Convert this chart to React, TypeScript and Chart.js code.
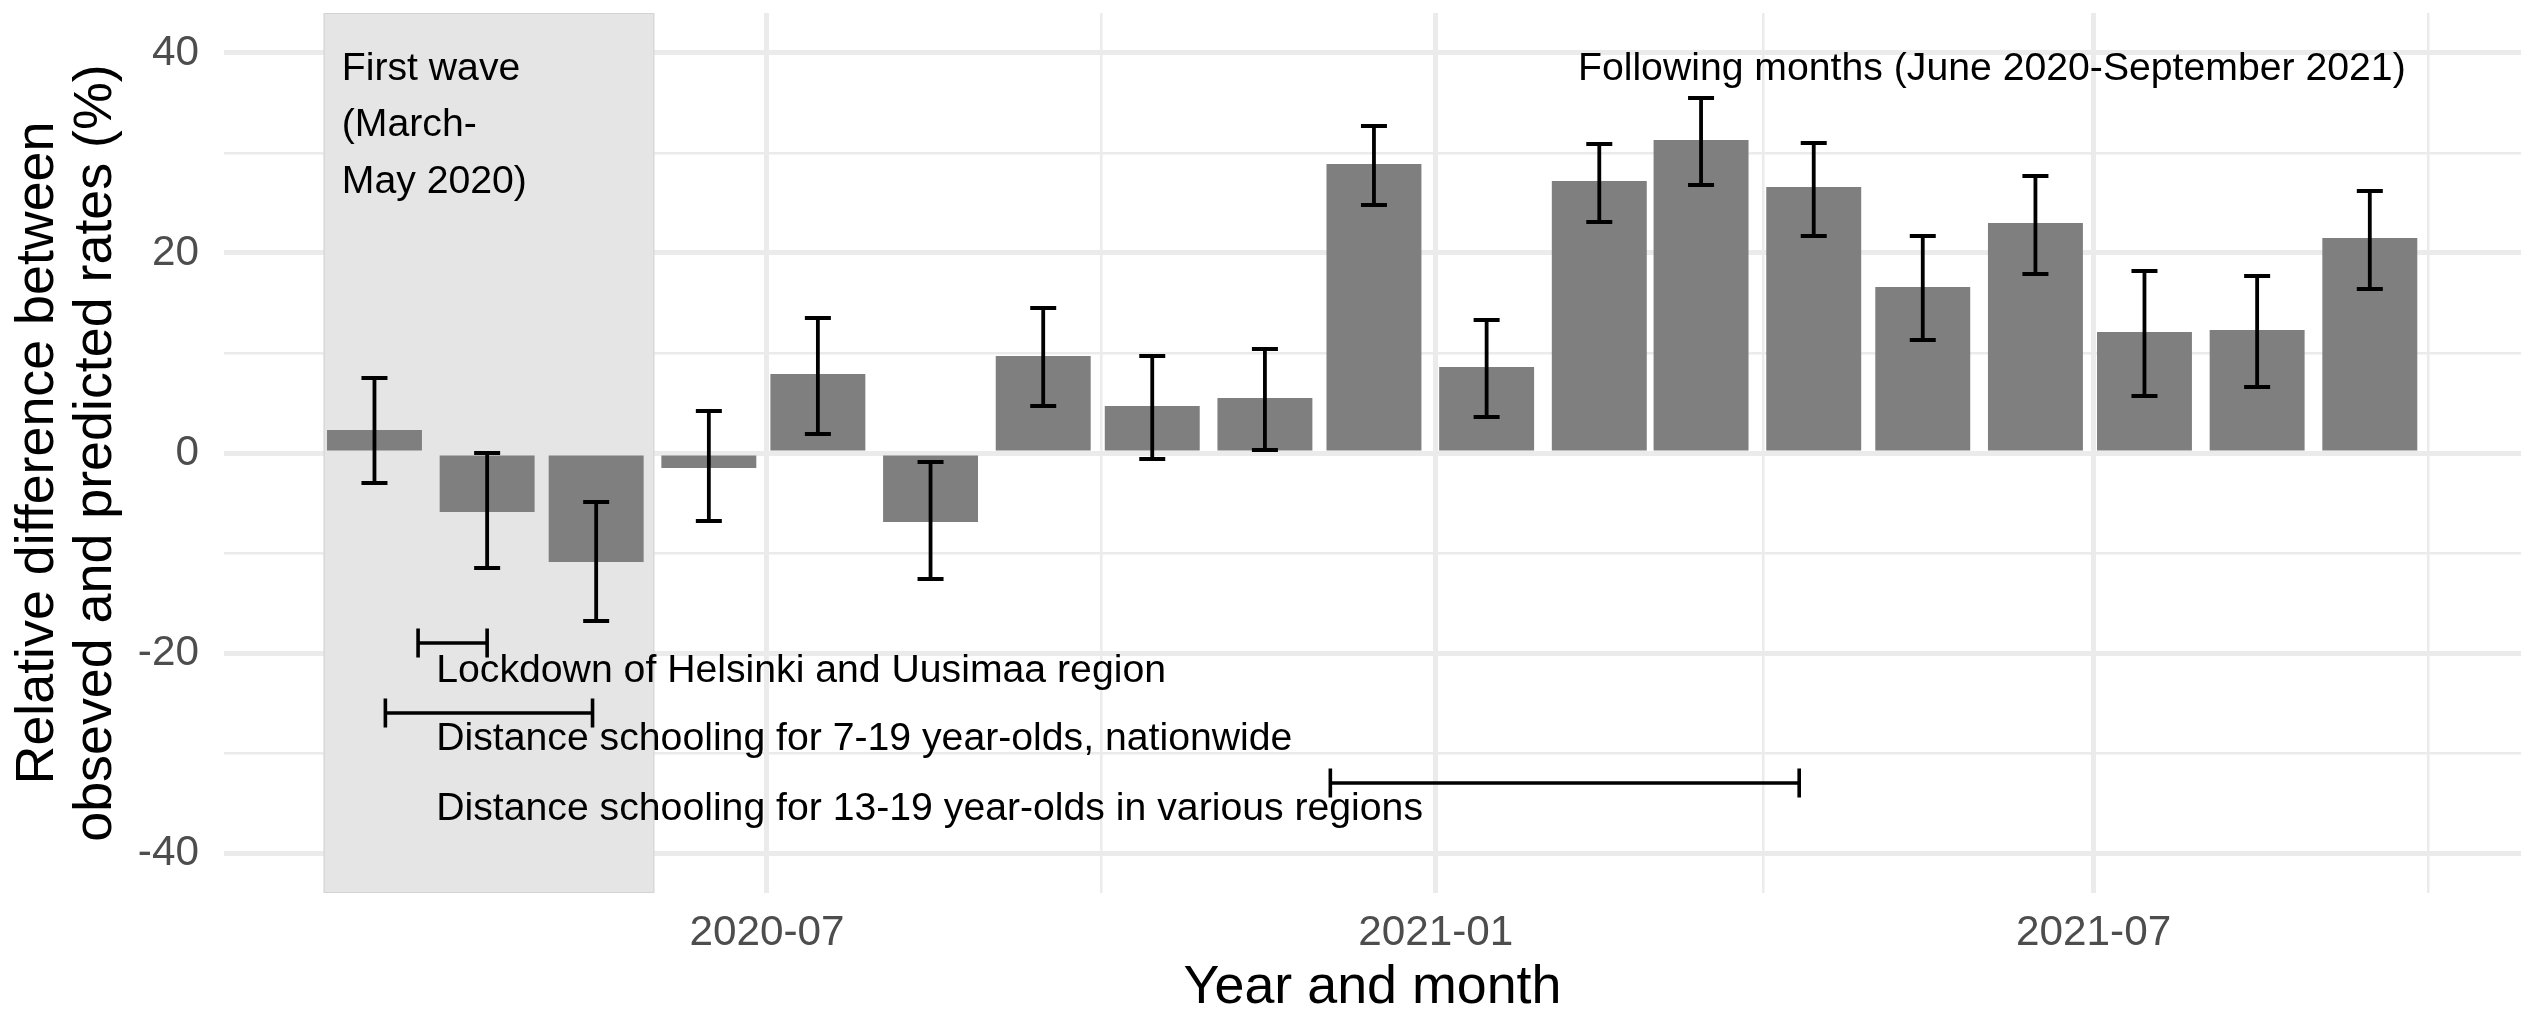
import React, { useEffect, useRef } from 'react';
import { Chart, registerables } from 'chart.js';

Chart.register(...registerables);

// ---- Data ----
const monthDates = [
  '2020-03-15', '2020-04-15', '2020-05-15', '2020-06-15', '2020-07-15', '2020-08-15',
  '2020-09-15', '2020-10-15', '2020-11-15', '2020-12-15', '2021-01-15', '2021-02-15',
  '2021-03-15', '2021-04-15', '2021-05-15', '2021-06-15', '2021-07-15', '2021-08-15',
  '2021-09-15',
];
const relDiff = [2.3, -5.9, -10.9, -1.5, 7.9, -6.9, 9.7, 4.7, 5.5, 28.9, 8.6, 27.2, 31.3, 26.6, 16.6, 23.0, 12.1, 12.3, 21.5];
const ciLower = [-3.0, -11.5, -16.8, -6.8, 1.9, -12.6, 4.7, -0.6, 0.3, 24.8, 3.6, 23.1, 26.8, 21.7, 11.3, 17.9, 5.7, 6.6, 16.4];
const ciUpper = [7.5, 0.0, -4.9, 4.2, 13.5, -0.9, 14.5, 9.7, 10.4, 32.7, 13.3, 30.9, 35.5, 31.0, 21.7, 27.7, 18.2, 17.7, 26.2];

const xMajorTickDates = ['2020-07-01', '2021-01-01', '2021-07-01'];
const xMinorTickDates = ['2020-10-01', '2021-04-01', '2021-10-01'];
const yMajorTicks = [-40, -20, 0, 20, 40];
const yMinorTicks = [-30, -10, 10, 30];
const yLimits = [-44, 44];
const xLimitDates = ['2020-02-02', '2021-10-26'];

const firstWaveStart = '2020-03-01';
const firstWaveEnd = '2020-05-31';
const firstWaveLabel = ['First wave', '(March-', 'May 2020)'];
const firstWaveLabelDate = '2020-03-06';
const firstWaveLabelY = 38.4;

const followingLabel = 'Following months (June 2020-September 2021)';
const followingLabelDate = '2021-06-03';
const followingLabelY = 38.4;

const measureLabels = [
  'Lockdown of Helsinki and Uusimaa region',
  'Distance schooling for 7-19 year-olds, nationwide',
  'Distance schooling for 13-19 year-olds in various regions',
];
const measureStart = ['2020-03-27', '2020-03-18', '2020-12-03'];
const measureEnd = ['2020-04-15', '2020-05-14', '2021-04-11'];
const measureY = [-19, -26, -33];
const measureLabelDate = '2020-04-01';
const measureLabelY = [-21.8, -28.65, -35.6];

const xTitle = 'Year and month';
const yTitle = ['Relative difference between', 'obseved and predicted rates (%)'];

// ---- helpers ----
const day = (s: string) => Date.parse(s + 'T00:00:00Z') / 86400000;
const fmtMonth = (d: number) => new Date(Math.round(d) * 86400000).toISOString().slice(0, 7);

const FONT = '"Liberation Sans", Arial, Helvetica, sans-serif';

const annotationPlugin = {
  id: 'ggAnnotations',
  beforeDatasetsDraw(chart: any) {
    const { ctx, chartArea, scales } = chart;
    const x = scales.x;
    const x0 = x.getPixelForValue(day(firstWaveStart));
    const x1 = x.getPixelForValue(day(firstWaveEnd));
    ctx.save();
    ctx.fillStyle = '#E5E5E5';
    ctx.fillRect(x0, chartArea.top, x1 - x0, chartArea.bottom - chartArea.top);
    ctx.strokeStyle = '#D3D3D3';
    ctx.lineWidth = 1;
    ctx.strokeRect(x0 + 0.5, chartArea.top + 0.5, x1 - x0 - 1, chartArea.bottom - chartArea.top - 1);
    ctx.restore();
  },
  afterDatasetsDraw(chart: any) {
    const { ctx, scales } = chart;
    const x = scales.x;
    const y = scales.y;
    ctx.save();
    // vertical error bars
    ctx.strokeStyle = '#000000';
    ctx.lineWidth = 3.8;
    ctx.lineCap = 'butt';
    const capHalf = 13;
    monthDates.forEach((m, i) => {
      const px = x.getPixelForValue(day(m));
      const yl = y.getPixelForValue(ciLower[i]);
      const yh = y.getPixelForValue(ciUpper[i]);
      ctx.beginPath();
      ctx.moveTo(px, yh);
      ctx.lineTo(px, yl);
      ctx.moveTo(px - capHalf, yh);
      ctx.lineTo(px + capHalf, yh);
      ctx.moveTo(px - capHalf, yl);
      ctx.lineTo(px + capHalf, yl);
      ctx.stroke();
    });
    // horizontal measure bars
    const tickHalf = 14.5;
    ctx.lineWidth = 3.6;
    measureStart.forEach((s, j) => {
      const xs = x.getPixelForValue(day(s));
      const xe = x.getPixelForValue(day(measureEnd[j]));
      const py = y.getPixelForValue(measureY[j]);
      ctx.beginPath();
      ctx.moveTo(xs, py);
      ctx.lineTo(xe, py);
      ctx.moveTo(xs, py - tickHalf);
      ctx.lineTo(xs, py + tickHalf);
      ctx.moveTo(xe, py - tickHalf);
      ctx.lineTo(xe, py + tickHalf);
      ctx.stroke();
    });
    // texts
    ctx.fillStyle = '#000000';
    ctx.font = `39.2px ${FONT}`;
    ctx.textBaseline = 'middle';
    ctx.textAlign = 'left';
    measureLabels.forEach((t, j) => {
      ctx.fillText(t, x.getPixelForValue(day(measureLabelDate)), y.getPixelForValue(measureLabelY[j]));
    });
    const fx = x.getPixelForValue(day(firstWaveLabelDate));
    const fy = y.getPixelForValue(firstWaveLabelY);
    firstWaveLabel.forEach((t, k) => {
      ctx.fillText(t, fx, fy + k * 56.5);
    });
    ctx.textAlign = 'center';
    ctx.fillText(followingLabel, x.getPixelForValue(day(followingLabelDate)), y.getPixelForValue(followingLabelY));
    ctx.restore();
  },
};

export default function App() {
  const canvasRef = useRef<HTMLCanvasElement | null>(null);

  useEffect(() => {
    const canvas = canvasRef.current;
    if (!canvas) return;
    Chart.defaults.font.family = FONT;
    const xMajorDays = xMajorTickDates.map(day);
    const xTickDays = [...xMajorTickDates, ...xMinorTickDates].map(day).sort((a, b) => a - b);
    const yTickVals = [...yMajorTicks, ...yMinorTicks].sort((a, b) => a - b);

    const chart = new Chart(canvas, {
      type: 'bar',
      data: {
        datasets: [
          {
            label: 'Relative difference',
            data: monthDates.map((m, i) => ({ x: day(m), y: relDiff[i] })),
            backgroundColor: '#7F7F7F',
            borderWidth: 0,
            barPercentage: 0.933,
            categoryPercentage: 1,
          },
        ],
      },
      options: {
        responsive: false,
        animation: false,
        events: [],
        layout: { padding: { top: 13, right: 0, bottom: 0, left: 0 } },
        plugins: {
          legend: { display: false },
          tooltip: { enabled: false },
        },
        scales: {
          x: {
            type: 'linear',
            offset: false,
            min: day(xLimitDates[0]) + 0.6,
            max: day(xLimitDates[1]) + 0.6,
            border: { display: false },
            grid: {
              offset: false,
              drawTicks: false,
              color: '#EBEBEB',
              lineWidth: (c: any) => (c.tick && xMajorDays.includes(c.tick.value) ? 5 : 2.5),
            },
            ticks: {
              autoSkip: false,
              maxRotation: 0,
              padding: 15,
              color: '#4D4D4D',
              font: { size: 42.3 },
              callback: (v: any) => (xMajorDays.includes(Number(v)) ? fmtMonth(Number(v)) : ''),
            },
            title: {
              display: true,
              text: xTitle,
              color: '#000000',
              font: { size: 53.8, lineHeight: 1 },
              padding: { top: 0, bottom: 1 },
            },
            afterBuildTicks: (scale: any) => {
              scale.ticks = xTickDays.map((v) => ({ value: v }));
            },
            afterFit: (scale: any) => {
              scale.height = 123;
              scale.paddingLeft = 0;
              scale.paddingRight = 0;
              scale.paddingTop = 0;
              scale.paddingBottom = 0;
            },
          },
          y: {
            type: 'linear',
            min: yLimits[0],
            max: yLimits[1],
            border: { display: false },
            grid: {
              drawTicks: false,
              color: '#EBEBEB',
              lineWidth: (c: any) => (c.tick && yMajorTicks.includes(c.tick.value) ? 5 : 2.5),
            },
            ticks: {
              autoSkip: false,
              padding: 25,
              color: '#4D4D4D',
              font: { size: 42.3 },
              callback: (v: any) => (yMajorTicks.includes(Number(v)) ? String(v) : ''),
            },
            title: {
              display: true,
              text: yTitle,
              color: '#000000',
              font: { size: 53.8, lineHeight: 1.08 },
              padding: { top: 9, bottom: 0 },
            },
            afterBuildTicks: (scale: any) => {
              scale.ticks = yTickVals.map((v) => ({ value: v }));
            },
            afterFit: (scale: any) => {
              scale.width = 224;
              scale.paddingLeft = 0;
              scale.paddingRight = 0;
              scale.paddingTop = 0;
              scale.paddingBottom = 0;
            },
          },
        },
      },
      plugins: [annotationPlugin],
    } as any);

    return () => chart.destroy();
  }, []);

  return (
    <div style={{ position: 'absolute', left: 0, top: 0, width: 2521, height: 1016, background: '#FFFFFF' }}>
      <canvas ref={canvasRef} width={2521} height={1016} style={{ display: 'block' }} />
    </div>
  );
}
